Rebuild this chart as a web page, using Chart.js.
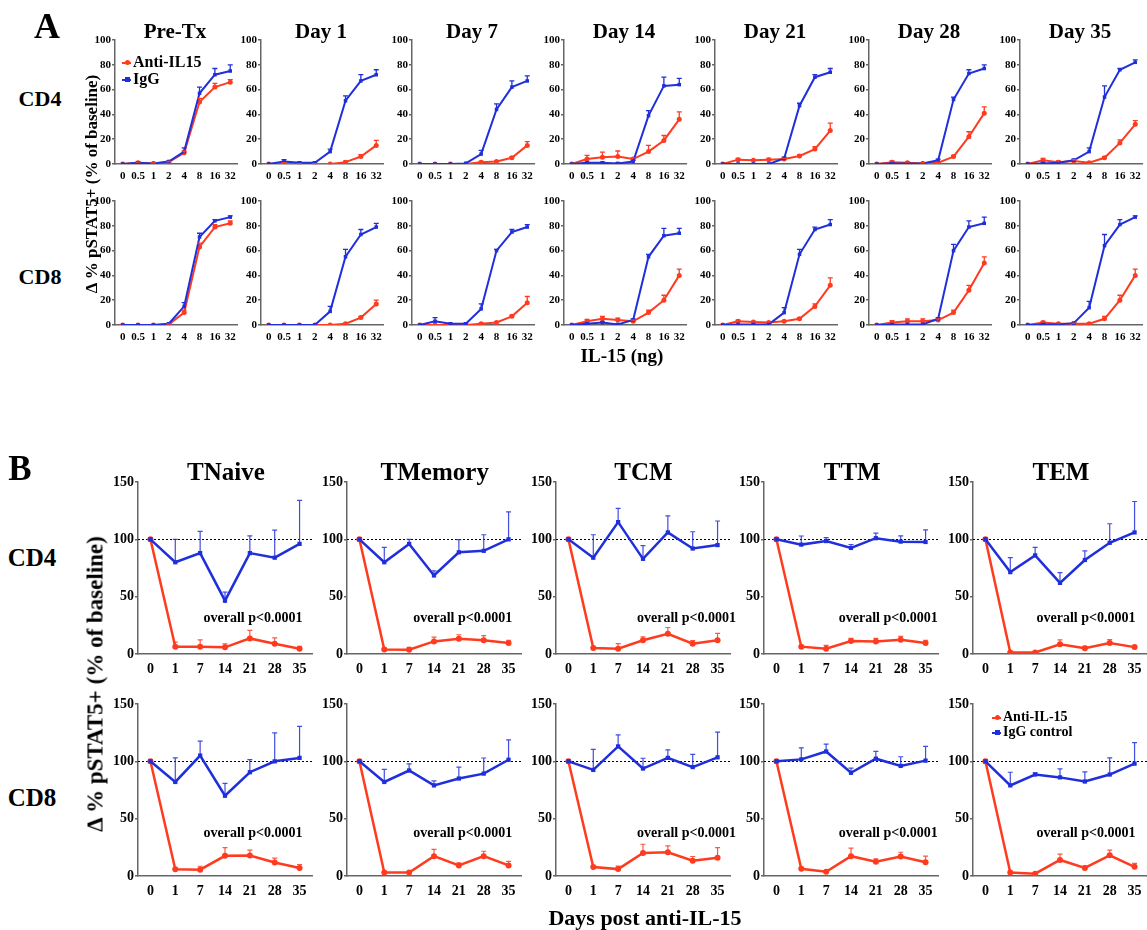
<!DOCTYPE html>
<html lang="en">

<head>
    <meta charset="UTF-8" />
    <title>pSTAT5 response to IL-15</title>
    <script src="https://cdn.jsdelivr.net/npm/chart.js"></script>
    <style>
        body {
            margin: 0;
            background: #fff;
            font-family: "Liberation Serif", "Times New Roman", serif;
        }

        #fig {
            position: relative;
            width: 1147px;
            height: 930px;
            overflow: hidden;
        }

        #fig canvas {
            position: absolute;
        }

        .txt {
            position: absolute;
            white-space: nowrap;
            font-weight: bold;
            line-height: 1;
            color: #000;
            transform: translate(-50%, -50%);
        }

        .rot {
            transform: translate(-50%, -50%) rotate(-90deg);
        }

        .legend {
            position: absolute;
            font-weight: bold;
            white-space: nowrap;
        }

        .key {
            display: inline-block;
            position: relative;
            width: 9px;
            height: 2px;
            margin-right: 2px;
            vertical-align: middle;
        }

        .key::after {
            content: "";
            position: absolute;
            left: 3px;
            top: -2px;
            width: 5px;
            height: 5px;
            background: inherit;
        }

        .key.red::after {
            border-radius: 50%;
        }

        .red {
            background: #ff3b1f;
        }

        .blue {
            background: #1f2fdb;
        }
    </style>
</head>

<body>
    <div id="fig"></div>

    <script>
        // ---- panel A: dose response (x = IL-15 ng), one array per timepoint ----
        const doses = ['0', '0.5', '1', '2', '4', '8', '16', '32'];
        const timepoints = ['Pre-Tx', 'Day 1', 'Day 7', 'Day 14', 'Day 21', 'Day 28', 'Day 35'];

        const cd4DoseAnti = [
            [0, 1, 0.5, 1.5, 9, 50, 62, 66],
            [0, 0.5, 0, 0, 0, 1.5, 6, 15],
            [0, 0, 0, 0, 1.5, 2, 5, 15],
            [0, 4, 5.5, 6, 4, 10, 19, 36],
            [0, 3.5, 3, 3.5, 4, 6.5, 12, 27],
            [0, 1.5, 1, 0.5, 1, 6, 22, 41],
            [0, 3, 1.5, 2.5, 1, 5, 17, 32]
        ];
        const cd4DoseAntiErr = [
            [0, 0.5, 0.5, 0.5, 1.5, 3, 3, 2],
            [0, 0.5, 0.3, 0.3, 0.3, 0.8, 1.5, 4],
            [0, 0, 0, 0, 0.5, 0.8, 1, 3],
            [0, 3, 4, 4.5, 1, 5, 4, 6],
            [0, 1, 0.5, 1, 0.5, 1, 2, 6],
            [0, 1, 0.5, 0.5, 0.5, 1, 4, 5],
            [0, 1.5, 1, 1, 0.5, 1, 2.5, 3]
        ];
        const cd4DoseIgg = [
            [0, 1, 0.5, 2, 10, 57, 72, 75],
            [0, 2, 1, 1, 10, 51, 67, 72],
            [0, 0, 0, 0.5, 8, 44, 62, 67],
            [0, 1, 1, 0.5, 2, 39, 63, 64],
            [0, 0, 0, 0, 4.5, 47, 70, 74],
            [0, 0.5, 0.5, 0.5, 3, 52, 73, 77],
            [0, 0.5, 1, 3, 10, 54, 76, 82]
        ];
        const cd4DoseIggErr = [
            [0, 0.5, 0.5, 0.5, 3, 5, 5, 5],
            [0, 1.5, 0.5, 0.5, 2, 4, 5, 4],
            [0, 0, 0, 0, 3, 4.5, 5, 4],
            [0, 0.5, 0.5, 0.5, 1, 4, 7, 5],
            [0, 0, 0, 0, 1, 2, 2, 3],
            [0, 0.5, 0.5, 0.5, 1, 2, 3, 3],
            [0, 0.5, 0.5, 1, 3, 9, 1, 2]
        ];
        const cd8DoseAnti = [
            [0, 0, 0, 0.5, 10, 63, 79, 82],
            [0, 0, 0, 0, 0, 1, 6, 17],
            [0, 0, 0, 0, 1, 2, 7, 18],
            [0, 3, 5, 4, 3, 10, 20, 40],
            [0, 3, 2.5, 2, 3, 5, 15, 32],
            [0, 2, 3, 3, 4, 10, 28, 50],
            [0, 2, 1, 1, 1, 5, 20, 40]
        ];
        const cd8DoseAntiErr = [
            [0, 0, 0, 0.3, 2, 3, 2, 2],
            [0, 0, 0, 0, 0, 0.5, 1, 3],
            [0, 0, 0, 0, 0.5, 0.5, 1, 5],
            [0, 1.5, 2, 1.5, 1, 2, 4, 5],
            [0, 1, 0.5, 0.5, 0.5, 1, 2, 6],
            [0, 1.5, 2, 2, 1, 2, 4, 5],
            [0, 1, 0.5, 0.5, 0.5, 2, 4, 5]
        ];
        const cd8DoseIgg = [
            [0, 0, 0, 1, 15, 71, 84, 87],
            [0, 0, 0, 0, 11, 55, 73, 79],
            [0, 3, 1, 1, 13, 60, 75, 79],
            [0, 1, 2, 0.5, 4, 55, 72, 74],
            [0, 0.5, 0.5, 0.5, 10, 57, 77, 81],
            [0, 0.5, 0.5, 0.5, 5, 60, 79, 82],
            [0, 0.5, 0.5, 1.5, 14, 64, 81, 87]
        ];
        const cd8DoseIggErr = [
            [0, 0, 0, 0.5, 3, 3, 1, 1],
            [0, 0, 0, 0, 4, 6, 4, 3],
            [0, 3, 0.5, 0.5, 4, 1, 2, 2],
            [0, 0.5, 0.5, 0.5, 1, 2, 6, 4],
            [0, 0, 0, 0, 4, 4, 2, 4],
            [0, 0, 0, 0, 1, 5, 5, 5],
            [0, 0.5, 0.5, 0.5, 5, 9, 4, 1]
        ];

        // ---- panel B: time course (x = days post anti-IL-15), one array per subset ----
        const days = ['0', '1', '7', '14', '21', '28', '35'];
        const subsets = ['TNaive', 'TMemory', 'TCM', 'TTM', 'TEM'];

        const cd4DayAnti = [
            [100, 6.4, 6.4, 5.8, 13.6, 9, 4.6],
            [100, 4, 3.8, 11, 13.3, 12, 9.5],
            [100, 5.2, 4.6, 12, 17.6, 9, 12],
            [100, 6.4, 4.6, 11.3, 11, 12.4, 9.5],
            [100, 1.4, 1.4, 8.4, 5, 9.5, 6]
        ];
        const cd4DayAntiErr = [
            [0, 4, 6, 3, 7, 5, 2],
            [0, 1, 2, 3.7, 3.5, 4, 2.5],
            [0, 0.5, 4.4, 3, 5.5, 2.6, 6],
            [0, 0.5, 3, 2.3, 2.6, 3, 2.5],
            [0, 0.5, 0.5, 4, 1.6, 3, 1.2]
        ];
        const cd4DayIgg = [
            [100, 80, 88, 46.5, 88, 84, 96],
            [100, 80, 96, 68.5, 88.7, 90, 100],
            [100, 84, 115, 83, 106, 92, 95],
            [100, 95.4, 98.5, 92.5, 101, 98, 97.7],
            [100, 71.4, 86, 62, 82, 97, 106]
        ];
        const cd4DayIggErr = [
            [0, 20, 19, 7.5, 15, 24, 38],
            [0, 13, 4, 4, 11, 14, 24],
            [0, 20, 12, 11.5, 14.5, 14.6, 21],
            [0, 7.5, 3, 3, 4.5, 5, 10.5],
            [0, 12.6, 7, 9, 8, 16.6, 27]
        ];
        const cd8DayAnti = [
            [100, 5.8, 5.5, 17.6, 17.9, 11.8, 7],
            [100, 3, 3, 17.3, 9.2, 17.3, 9.2],
            [100, 7.8, 6, 20, 20.7, 13.3, 16],
            [100, 6.3, 3.7, 17.3, 12.4, 17, 12],
            [100, 3, 2, 14, 7, 18, 8]
        ];
        const cd8DayAntiErr = [
            [0, 1, 3, 7.2, 4.6, 3.8, 3],
            [0, 0.5, 0.5, 6, 2.3, 4.3, 3.5],
            [0, 0.5, 2.6, 7.7, 5.5, 3.7, 8.8],
            [0, 0.5, 0.5, 7, 2.6, 3.7, 5.3],
            [0, 0.5, 0.5, 5, 1.6, 4.5, 3]
        ];
        const cd8DayIgg = [
            [100, 82, 105, 70, 90.5, 100, 103],
            [100, 82, 92, 79, 85, 89.3, 101.4],
            [100, 92.5, 113, 93.7, 103, 95, 103.5],
            [100, 101.7, 108.6, 90, 102.3, 96, 100.6],
            [100, 79, 88.5, 86, 82.4, 88.5, 98]
        ];
        const cd8DayIggErr = [
            [0, 21, 12.6, 10.7, 11, 24.8, 27.5],
            [0, 11, 5.7, 4, 10, 13.6, 17.3],
            [0, 18, 10, 9, 7, 11, 22],
            [0, 10, 6.4, 4, 6.3, 8, 12.4],
            [0, 11.5, 1.5, 7.4, 8.4, 14.5, 18.4]
        ];

        const RED = '#ff3b1f';
        const BLUE = '#1f2fdb';
        const AXIS = '#666';
        const SERIF = '"Liberation Serif", "Times New Roman", serif';

        const fig = document.getElementById('fig');

        // upper-only SEM whiskers
        const errorBars = {
            id: 'errorBars',
            afterDatasetsDraw(chart, args, opts) {
                const ctx = chart.ctx;
                const y = chart.scales.y;
                chart.data.datasets.forEach((ds, i) => {
                    if (!ds.err) return;
                    const meta = chart.getDatasetMeta(i);
                    ctx.save();
                    ctx.strokeStyle = ds.borderColor;
                    ctx.globalAlpha = opts.alpha || 1;
                    ctx.lineWidth = opts.width || 1;
                    meta.data.forEach((pt, j) => {
                        const e = ds.err[j];
                        if (!e) return;
                        const top = y.getPixelForValue(ds.data[j] + e);
                        ctx.beginPath();
                        ctx.moveTo(pt.x, pt.y);
                        ctx.lineTo(pt.x, top);
                        ctx.moveTo(pt.x - opts.cap, top);
                        ctx.lineTo(pt.x + opts.cap, top);
                        ctx.stroke();
                    });
                    ctx.restore();
                });
            }
        };

        // dotted baseline at 100 %
        const baseline = {
            id: 'baseline',
            beforeDatasetsDraw(chart) {
                const { ctx, chartArea } = chart;
                const yy = Math.round(chart.scales.y.getPixelForValue(100)) + 0.5;
                ctx.save();
                ctx.strokeStyle = '#000';
                ctx.lineWidth = 1;
                ctx.setLineDash([2, 2]);
                ctx.beginPath();
                ctx.moveTo(chartArea.left, yy);
                ctx.lineTo(chartArea.right, yy);
                ctx.stroke();
                ctx.restore();
            }
        };

        function addText(str, x, y, size, cls) {
            const d = document.createElement('div');
            d.className = 'txt' + (cls ? ' ' + cls : '');
            d.style.left = x + 'px';
            d.style.top = y + 'px';
            d.style.fontSize = size + 'px';
            d.textContent = str;
            fig.appendChild(d);
        }

        function addLegend(x, y, size, lh, names) {
            const d = document.createElement('div');
            d.className = 'legend';
            d.style.left = x + 'px';
            d.style.top = y + 'px';
            d.style.fontSize = size + 'px';
            d.style.lineHeight = lh + 'px';
            d.innerHTML = '<div><span class="key red"></span>' + names[0] + '</div>' +
                '<div><span class="key blue"></span>' + names[1] + '</div>';
            fig.appendChild(d);
        }

        // g = geometry of one small panel: plot-area origin (x, y), plot size, label gutters
        function panel(g, labels, anti, antiErr, igg, iggErr) {
            const canvas = document.createElement('canvas');
            const W = g.yw + g.pw + g.pr;
            const H = g.pt + g.ph + g.xh;
            canvas.width = W;
            canvas.height = H;
            canvas.style.left = (g.x - g.yw) + 'px';
            canvas.style.top = (g.y - g.pt) + 'px';
            fig.appendChild(canvas);

            new Chart(canvas, {
                type: 'line',
                data: {
                    labels: labels,
                    datasets: [
                        {
                            data: igg, err: iggErr,
                            borderColor: BLUE, backgroundColor: BLUE,
                            borderWidth: g.lw, pointStyle: 'rect',
                            pointRadius: g.pr2, pointBorderWidth: 0, tension: 0
                        },
                        {
                            data: anti, err: antiErr,
                            borderColor: RED, backgroundColor: RED,
                            borderWidth: g.lw, pointStyle: 'circle',
                            pointRadius: g.pr2, pointBorderWidth: 0, tension: 0
                        }
                    ]
                },
                options: {
                    responsive: false,
                    animation: false,
                    devicePixelRatio: 1,
                    layout: { padding: { top: g.pt, right: g.pr, left: 0, bottom: 0 } },
                    plugins: {
                        legend: { display: false },
                        tooltip: { enabled: false },
                        errorBars: { width: g.ew, cap: g.cap, alpha: g.ea }
                    },
                    scales: {
                        x: {
                            type: 'category',
                            offset: true,
                            grid: { display: false, drawTicks: false },
                            border: { color: AXIS, width: g.aw },
                            ticks: {
                                color: '#000', padding: g.xpad, maxRotation: 0, autoSkip: false,
                                font: { family: SERIF, weight: 'bold', size: g.fs }
                            },
                            afterFit: s => { s.height = g.xh; }
                        },
                        y: {
                            min: 0, max: g.ymax,
                            grid: { drawOnChartArea: false, drawTicks: true, tickLength: 3, color: AXIS, lineWidth: g.aw },
                            border: { color: AXIS, width: g.aw },
                            ticks: {
                                stepSize: g.step, color: '#000', padding: 1,
                                font: { family: SERIF, weight: 'bold', size: g.fs }
                            },
                            afterFit: s => { s.width = g.yw; }
                        }
                    }
                },
                plugins: g.ref ? [errorBars, baseline] : [errorBars]
            });
        }

        // ---------- panel A ----------
        const rowTopA = [40, 201];
        const colLeftA = [115, 261, 412, 564, 715, 869, 1020];
        timepoints.forEach((t, c) => {
            const x0 = colLeftA[c];
            const base = { x: x0, pw: 123, ph: 124, yw: 24, pr: 4, pt: 8, xh: 24,
                           ymax: 100, step: 20, fs: 11, lw: 2, pr2: 2.5,
                           ew: 1.3, cap: 2.5, ea: 1, aw: 1.5, xpad: 6 };
            panel(Object.assign({}, base, { y: rowTopA[0] }), doses,
                cd4DoseAnti[c], cd4DoseAntiErr[c], cd4DoseIgg[c], cd4DoseIggErr[c]);
            panel(Object.assign({}, base, { y: rowTopA[1] }), doses,
                cd8DoseAnti[c], cd8DoseAntiErr[c], cd8DoseIgg[c], cd8DoseIggErr[c]);
            addText(t, x0 + 60, 31, 21);
        });

        addText('A', 47, 26, 36);
        addText('CD4', 40, 99, 22);
        addText('CD8', 40, 277, 22);
        addText('\u0394 % pSTAT5+ (% of baseline)', 91, 184, 17, 'rot');
        addText('IL-15 (ng)', 622, 355, 19);
        addLegend(122, 53, 16, 17, ['Anti-IL15', 'IgG']);

        // ---------- panel B ----------
        const rowTopB = [482, 704];
        const pTextLeft = [65, 66, 81, 74, 63];
        subsets.forEach((s, c) => {
            const x0 = 138 + 208.75 * c;
            const base = { x: x0, pw: 174, ph: 172, yw: 32, pr: 4, pt: 10, xh: 26,
                           ymax: 150, step: 50, fs: 14, lw: 2.5, pr2: 3,
                           ew: 1.2, cap: 2.5, ea: 0.85, aw: 1.5, xpad: 7, ref: true };
            panel(Object.assign({}, base, { y: rowTopB[0] }), days,
                cd4DayAnti[c], cd4DayAntiErr[c], cd4DayIgg[c], cd4DayIggErr[c]);
            panel(Object.assign({}, base, { y: rowTopB[1] }), days,
                cd8DayAnti[c], cd8DayAntiErr[c], cd8DayIgg[c], cd8DayIggErr[c]);
            addText(s, x0 + 88, 471, 25);
            const pl = x0 + pTextLeft[c];
            addText('overall p<0.0001', pl + 50, 618, 14);
            addText('overall p<0.0001', pl + 50, 833, 14);
        });

        addText('B', 20, 468, 35);
        addText('CD4', 32, 557, 25);
        addText('CD8', 32, 797, 25);
        addText('\u0394 % pSTAT5+ (% of baseline)', 95, 684, 23, 'rot');
        addText('Days post anti-IL-15', 645, 918, 22);
        addLegend(992, 709, 14, 15, ['Anti-IL-15', 'IgG control']);
    </script>
</body>

</html>
